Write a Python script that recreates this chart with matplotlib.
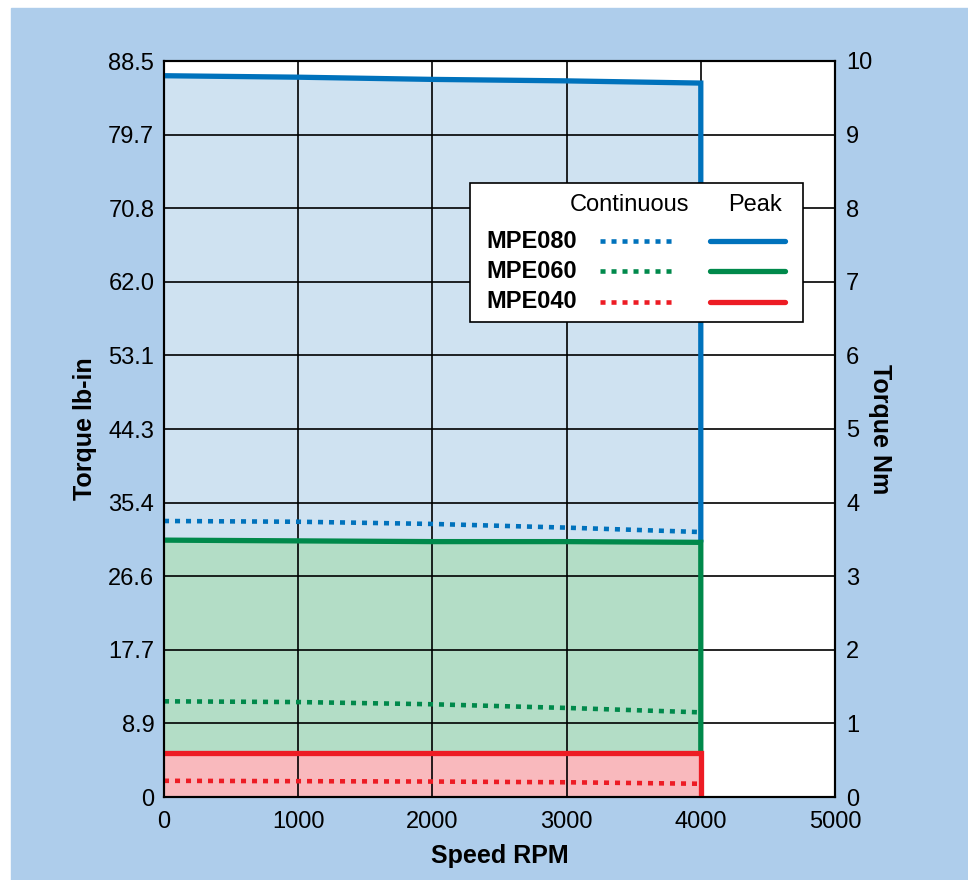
import matplotlib.pyplot as plt
from matplotlib.patches import Rectangle
from matplotlib.lines import Line2D

plt.rcParams['font.family'] = ['Liberation Sans', 'DejaVu Sans']

# speed in rpm
speed = [0, 1000, 2000, 3000, 4000]

# torque in Nm
peak_080 = [9.80, 9.78, 9.75, 9.73, 9.70]
cont_080 = [3.75, 3.74, 3.71, 3.66, 3.60]
peak_060 = [3.49, 3.48, 3.47, 3.47, 3.46]
cont_060 = [1.30, 1.29, 1.26, 1.21, 1.15]
peak_040 = [0.60, 0.60, 0.60, 0.60, 0.60]
cont_040 = [0.22, 0.215, 0.21, 0.20, 0.18]

nm_ticks = [0, 1, 2, 3, 4, 5, 6, 7, 8, 9, 10]
lbin_labels = ['0', '8.9', '17.7', '26.6', '35.4', '44.3', '53.1', '62.0', '70.8', '79.7', '88.5']
speed_ticks = [0, 1000, 2000, 3000, 4000, 5000]

models = ['MPE080', 'MPE060', 'MPE040']
line_cols = ['#0072bc', '#00894b', '#ed1c24']
fill_cols = ['#cfe2f1', '#b3ddc6', '#f9b9bd']

fig = plt.figure(figsize=(9.68, 8.8), dpi=100)
fig.patches.append(Rectangle((11/968, 0), 1, 1 - 8/880, transform=fig.transFigure,
                             color='#aecdeb', zorder=-5))

ax = fig.add_axes([164/968, 1 - 797/880, 671/968, 736/880])
ax.set_xlim(0, 5000)
ax.set_ylim(0, 10)

peaks = [peak_080, peak_060, peak_040]
conts = [cont_080, cont_060, cont_040]
for i in range(3):
    ax.fill_between(speed, 0, peaks[i], color=fill_cols[i], lw=0, zorder=1 + 0.1*i)
    # peak curve then drop at max speed down to the next curve
    end = peaks[i+1][-1] if i < 2 else 0
    ax.plot(speed + [speed[-1]], peaks[i] + [end], color=line_cols[i], lw=3.8,
            solid_capstyle='butt', solid_joinstyle='miter', zorder=3)
    ax.plot(speed, conts[i], color=line_cols[i], lw=3.3, linestyle=(0, (1.1, 1.3)), zorder=3)

ax.set_xticks(speed_ticks)
ax.set_yticks(nm_ticks)
ax.set_yticklabels(lbin_labels)
ax.grid(True, color='black', lw=1.2)
ax.tick_params(length=0, labelsize=17, pad=7)
ax.tick_params(axis='x', pad=10)
for s in ax.spines.values():
    s.set_linewidth(1.5)

ax.set_xlabel('Speed RPM', fontsize=18, fontweight='bold', labelpad=8)
ax.set_ylabel('Torque lb-in', fontsize=18, fontweight='bold', labelpad=8)

ax2 = ax.twinx()
ax2.set_ylim(0, 10)
ax2.set_yticks(nm_ticks)
ax2.tick_params(length=0, labelsize=17, pad=8)
ax2.set_ylabel('Torque Nm', fontsize=18, fontweight='bold', rotation=270, labelpad=14)
for s in ax2.spines.values():
    s.set_linewidth(1.5)

# legend box
ax2.add_patch(Rectangle((0.456, 0.645), 0.496, 0.189, transform=ax2.transAxes,
                        facecolor='white', edgecolor='black', lw=1.2, zorder=10))
ax2.text(0.694, 0.804, 'Continuous', transform=ax2.transAxes, ha='center', va='center',
         fontsize=17, zorder=11)
ax2.text(0.881, 0.804, 'Peak', transform=ax2.transAxes, ha='center', va='center',
         fontsize=17, zorder=11)
rows = [0.755, 0.714, 0.673]
for i in range(3):
    ax2.text(0.481, rows[i], models[i], transform=ax2.transAxes, ha='left', va='center',
             fontsize=17, fontweight='bold', zorder=11)
    ax2.add_line(Line2D([0.650, 0.759], [rows[i], rows[i]], transform=ax2.transAxes,
                        color=line_cols[i], lw=3.3, linestyle=(0, (1.1, 1.3)), zorder=11))
    ax2.add_line(Line2D([0.814, 0.925], [rows[i], rows[i]], transform=ax2.transAxes,
                        color=line_cols[i], lw=3.8, solid_capstyle='round', zorder=11))

fig.savefig('out.png', dpi=100)
